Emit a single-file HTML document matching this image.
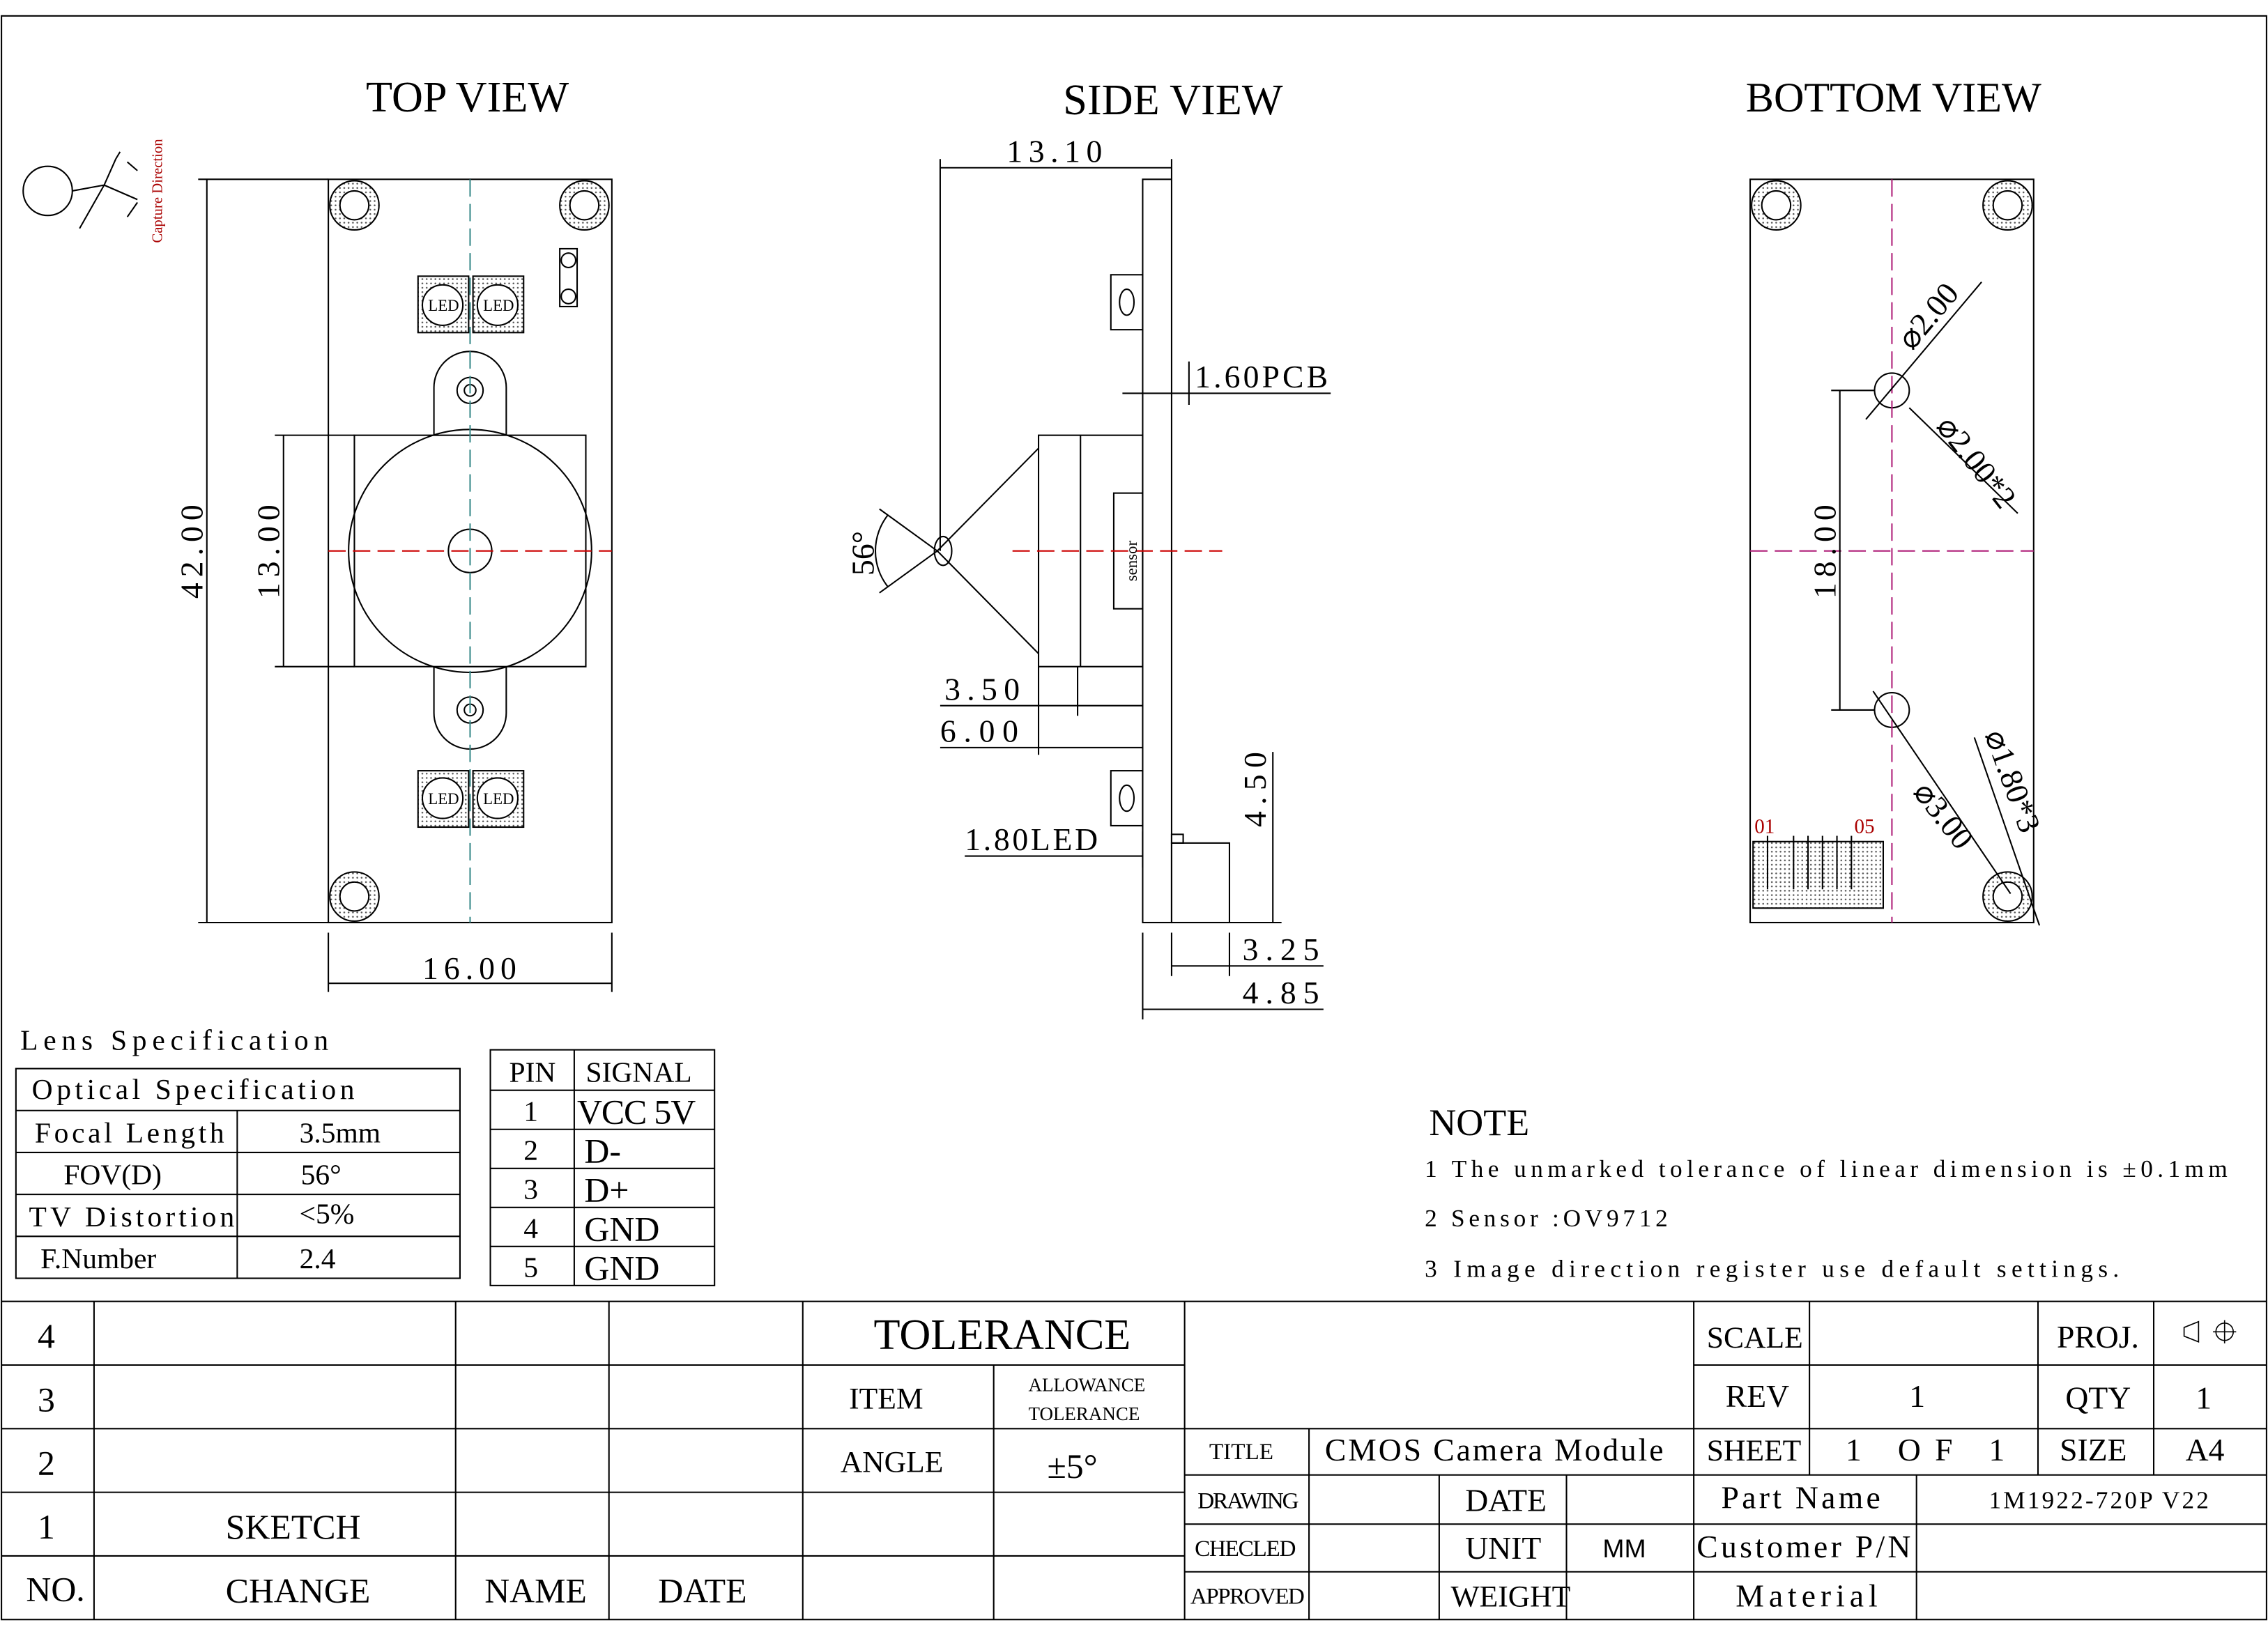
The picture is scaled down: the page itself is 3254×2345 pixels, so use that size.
<!DOCTYPE html>
<html><head><meta charset="utf-8"><style>
html,body{margin:0;padding:0;background:#fff}
svg{display:block}
text{font-family:"Liberation Serif","DejaVu Serif",serif;fill:#000}
</style></head><body>
<svg width="3254" height="2345" viewBox="0 0 1568 1130" xmlns="http://www.w3.org/2000/svg">
<defs>
<pattern id="h" width="3" height="3" patternUnits="userSpaceOnUse"><rect width="3" height="3" fill="#fff"/><circle cx="1" cy="1" r="0.6" fill="#555"/></pattern>
</defs>
<g fill="none" stroke="#000" stroke-width="1">
<rect x="1" y="11" width="1566" height="1109"/>
<rect x="227" y="124" width="196" height="514"/>
<rect x="245" y="301" width="160" height="160"/>
<circle cx="325" cy="381" r="84"/>
<circle cx="325" cy="381" r="15"/>
<path d="M300,301 V268 A25,25 0 0 1 350,268 V301"/>
<circle cx="325" cy="270" r="9"/><circle cx="325" cy="270" r="4"/>
<path d="M300,461 V493 A25,25 0 0 0 350,493 V461"/>
<circle cx="325" cy="491" r="9"/><circle cx="325" cy="491" r="4"/>
<g fill="url(#h)">
<circle cx="245" cy="142" r="17"/><circle cx="404" cy="142" r="17"/><circle cx="245" cy="620" r="17"/>
<rect x="289" y="191" width="35" height="39"/><rect x="327" y="191" width="35" height="39"/>
<rect x="289" y="533" width="35" height="39"/><rect x="327" y="533" width="35" height="39"/>
</g>
<g fill="#fff"><circle cx="245" cy="142" r="10"/><circle cx="404" cy="142" r="10"/><circle cx="245" cy="620" r="10"/>
<circle cx="306" cy="211" r="14"/><circle cx="344" cy="211" r="14"/><circle cx="306" cy="552" r="14"/><circle cx="344" cy="552" r="14"/></g>
<rect x="387" y="172" width="12" height="40"/>
<circle cx="393" cy="180" r="5"/><circle cx="393" cy="205" r="5"/>
<path d="M325,124 V638" stroke="#3a8a8a" stroke-dasharray="12,5"/>
<path d="M227,381 H423" stroke="#c00" stroke-dasharray="12,5"/>
<path d="M143,124 V638 M137,124 H227 M137,638 H227 M196,301 V461 M190,301 H245 M190,461 H245 M227,645 V686 M423,645 V686 M227,680 H423"/>
<circle cx="33" cy="132" r="17"/><path d="M50,132 L72,128 L80,110 M72,128 L95,138 M72,128 L55,158 M80,110 L83,105"/>
<path d="M95,118 L88,112 M95,140 L88,150"/>
<rect x="790" y="124" width="20" height="514"/>
<rect x="718" y="301" width="72" height="160"/>
<path d="M747,301 V461"/>
<rect x="770" y="341" width="20" height="80"/>
<path d="M718,310 L648,381 L718,452"/>
<path d="M648,381 L608,352 M648,381 L608,410 M614,356 A40,40 0 0 0 614,406"/>
<ellipse cx="652" cy="381" rx="6" ry="10"/>
<rect x="768" y="190" width="22" height="38"/><ellipse cx="779" cy="209" rx="5" ry="9"/>
<rect x="768" y="533" width="22" height="38"/><ellipse cx="779" cy="552" rx="5" ry="9"/>
<rect x="810" y="583" width="40" height="55"/><rect x="810" y="577" width="8" height="6"/>
<path d="M700,381 H845" stroke="#c00" stroke-dasharray="12,5"/>
<path d="M650,116 H810 M650,110 V381 M810,110 V124"/>
<path d="M776,272 H920 M822,250 V280 M810,272 H830"/>
<path d="M650,488 H790 M650,517 H790 M745,461 V495 M718,461 V522"/>
<path d="M667,592 H790 M790,575 V600"/>
<path d="M880,520 V638 M850,638 H886"/>
<path d="M810,645 V675 M850,645 V675 M790,645 V705 M810,668 H915 M790,698 H915"/>
<rect x="1210" y="124" width="196" height="514"/>
<g fill="url(#h)"><circle cx="1228" cy="142" r="17"/><circle cx="1388" cy="142" r="17"/><circle cx="1388" cy="620" r="17"/>
<rect x="1212" y="582" width="90" height="46"/></g>
<g fill="#fff"><circle cx="1228" cy="142" r="10"/><circle cx="1388" cy="142" r="10"/><circle cx="1388" cy="620" r="10"/></g>
<path d="M1222,578 V615 M1240,578 V615 M1250,578 V615 M1260,578 V615 M1270,578 V615 M1280,578 V615" />
<circle cx="1308" cy="270" r="12"/><circle cx="1308" cy="491" r="12"/>
<path d="M1308,124 V638" stroke="#b0207a" stroke-dasharray="12,5"/>
<path d="M1210,381 H1406" stroke="#b0207a" stroke-dasharray="12,5"/>
<path d="M1266,270 H1296 M1266,491 H1296 M1272,270 V491"/>
<path d="M1290,290 L1370,195 M1320,282 L1395,355 M1295,478 L1390,618 M1365,510 L1410,640"/>
<rect x="11" y="739" width="307" height="145"/>
<path d="M11,768 H318 M11,797 H318 M11,826 H318 M11,855 H318 M164,768 V884"/>
<rect x="339" y="726" width="155" height="163"/>
<path d="M339,754 H494 M339,781 H494 M339,808 H494 M339,835 H494 M339,862 H494 M397,726 V889"/>
<path d="M1,900 H1567 M1,944 H819 M1,988 H819 M1,1032 H819 M1,1076 H819"/>
<path d="M65,900 V1120 M315,900 V1120 M421,900 V1120 M555,900 V1120 M687,944 V1120 M819,900 V1120"/>
<path d="M1171,944 H1567 M1171,900 V1120 M1251,900 V1020 M1409,900 V1020 M1489,900 V1020"/>
<path d="M819,988 H1567 M819,1020 H1567 M819,1054 H1567 M819,1087 H1567"/>
<path d="M905,988 V1120 M995,1020 V1120 M1083,1020 V1120 M1325,1020 V1120"/>
</g>
<g font-size="30">
<text x="253" y="77">TOP VIEW</text><text x="735" y="79">SIDE VIEW</text><text x="1207" y="77" font-size="29">BOTTOM VIEW</text>
</g>
<g font-size="22">
<text x="696" y="112" textLength="66">13.10</text>
<text x="826" y="268" textLength="92">1.60PCB</text>
<text x="653" y="484" textLength="52">3.50</text><text x="650" y="513" textLength="54">6.00</text>
<text x="667" y="588" textLength="92">1.80LED</text>
<text x="859" y="664" textLength="53">3.25</text><text x="859" y="694" textLength="53">4.85</text>
<text x="292" y="677" textLength="65">16.00</text>
<text transform="translate(140,414) rotate(-90)" textLength="65">42.00</text>
<text transform="translate(193,414) rotate(-90)" textLength="65">13.00</text>
<text transform="translate(604,398) rotate(-90)">56°</text>
<text transform="translate(875,572) rotate(-90)" textLength="52">4.50</text>
<text transform="translate(1269,414) rotate(-90)" textLength="65">18.00</text>
<text transform="translate(1322,243) rotate(-50)">⌀2.00</text>
<text transform="translate(1338,295) rotate(52)">⌀2.00*2</text>
<text transform="translate(1322,548) rotate(52)">⌀3.00</text>
<text transform="translate(1372,508) rotate(70)">⌀1.80*3</text>
</g>
<g font-size="11"><text x="296" y="215">LED</text><text x="334" y="215">LED</text><text x="296" y="556">LED</text><text x="334" y="556">LED</text>
<text transform="translate(786,402) rotate(-90)">sensor</text></g>
<text font-size="14" x="1213" y="576" style="fill:#a00">01</text><text font-size="14" x="1282" y="576" style="fill:#a00">05</text>
<text font-size="10" transform="translate(112,168) rotate(-90)" style="fill:#a00">Capture Direction</text>
<g font-size="20">
<text x="14" y="726" textLength="213">Lens Specification</text>
<text x="22" y="760" textLength="223">Optical Specification</text>
<text x="24" y="790" textLength="131">Focal Length</text><text x="207" y="790">3.5mm</text>
<text x="44" y="819">FOV(D)</text><text x="208" y="819">56°</text>
<text x="20" y="848" textLength="142">TV Distortion</text><text x="207" y="846">&lt;5%</text>
<text x="28" y="877">F.Number</text><text x="207" y="877">2.4</text>
<text x="352" y="748">PIN</text><text x="405" y="748">SIGNAL</text>
<text x="362" y="775">1</text><text x="399" y="777" font-size="24" textLength="82">VCC 5V</text>
<text x="362" y="802">2</text><text x="404" y="804" font-size="24">D-</text>
<text x="362" y="829">3</text><text x="404" y="831" font-size="24">D+</text>
<text x="362" y="856">4</text><text x="404" y="858" font-size="24">GND</text>
<text x="362" y="883">5</text><text x="404" y="885" font-size="24">GND</text>
</g>
<g font-size="17">
<text x="988" y="785" font-size="26">NOTE</text>
<text x="985" y="814" textLength="555">1  The unmarked tolerance of linear dimension is ±0.1mm</text>
<text x="985" y="848" textLength="168">2  Sensor :OV9712</text>
<text x="985" y="883" textLength="480">3  Image direction register use default settings.</text>
</g>
<g font-size="24">
<text x="26" y="932">4</text><text x="26" y="976">3</text><text x="26" y="1020">2</text><text x="26" y="1064">1</text>
<text x="18" y="1107">NO.</text><text x="156" y="1064">SKETCH</text><text x="156" y="1108">CHANGE</text>
<text x="335" y="1108">NAME</text><text x="455" y="1108">DATE</text>
<text x="604" y="933" font-size="30">TOLERANCE</text>
<text x="587" y="974" font-size="21">ITEM</text><text x="581" y="1018" font-size="21">ANGLE</text>
<text x="724" y="1022">±5°</text>
<text x="1180" y="932" font-size="21">SCALE</text><text x="1422" y="932" font-size="22">PROJ.</text>
<text x="1193" y="973" font-size="22">REV</text><text x="1320" y="973" font-size="22">1</text>
<text x="1428" y="974" font-size="22">QTY</text><text x="1518" y="974" font-size="22">1</text>
<text x="1180" y="1010" font-size="21">SHEET</text><text x="1276" y="1010" font-size="22" textLength="110">1  OF   1</text>
<text x="1424" y="1010" font-size="22">SIZE</text><text x="1511" y="1010" font-size="22">A4</text>
<text x="916" y="1010" font-size="22" textLength="234">CMOS  Camera Module</text>
<text x="1013" y="1045" font-size="22">DATE</text><text x="1013" y="1078" font-size="22">UNIT</text><text x="1003" y="1111" font-size="21">WEIGHT</text>
<text x="1108" y="1077" font-size="18" style="font-family:'Liberation Sans',sans-serif">MM</text>
<text x="1190" y="1043" font-size="22" textLength="110">Part Name</text><text x="1173" y="1077" font-size="22" textLength="148">Customer P/N</text><text x="1200" y="1111" font-size="22" textLength="98">Material</text>
<text x="1375" y="1043" font-size="17" textLength="152">1M1922-720P V22</text>
</g>
<g font-size="16">
<text x="711" y="962" font-size="13">ALLOWANCE</text><text x="711" y="982" font-size="13">TOLERANCE</text>
<text x="836" y="1009">TITLE</text><text x="828" y="1043" textLength="70">DRAWING</text><text x="826" y="1076" textLength="70">CHECLED</text><text x="823" y="1109" textLength="79">APPROVED</text>
</g>
<g fill="none" stroke="#000" stroke-width="0.8"><path d="M1510,918 L1520,914 V928 L1510,924Z"/><circle cx="1538" cy="921" r="6"/><path d="M1530,921 H1546 M1538,913 V929"/></g>
</svg>
</body></html>
